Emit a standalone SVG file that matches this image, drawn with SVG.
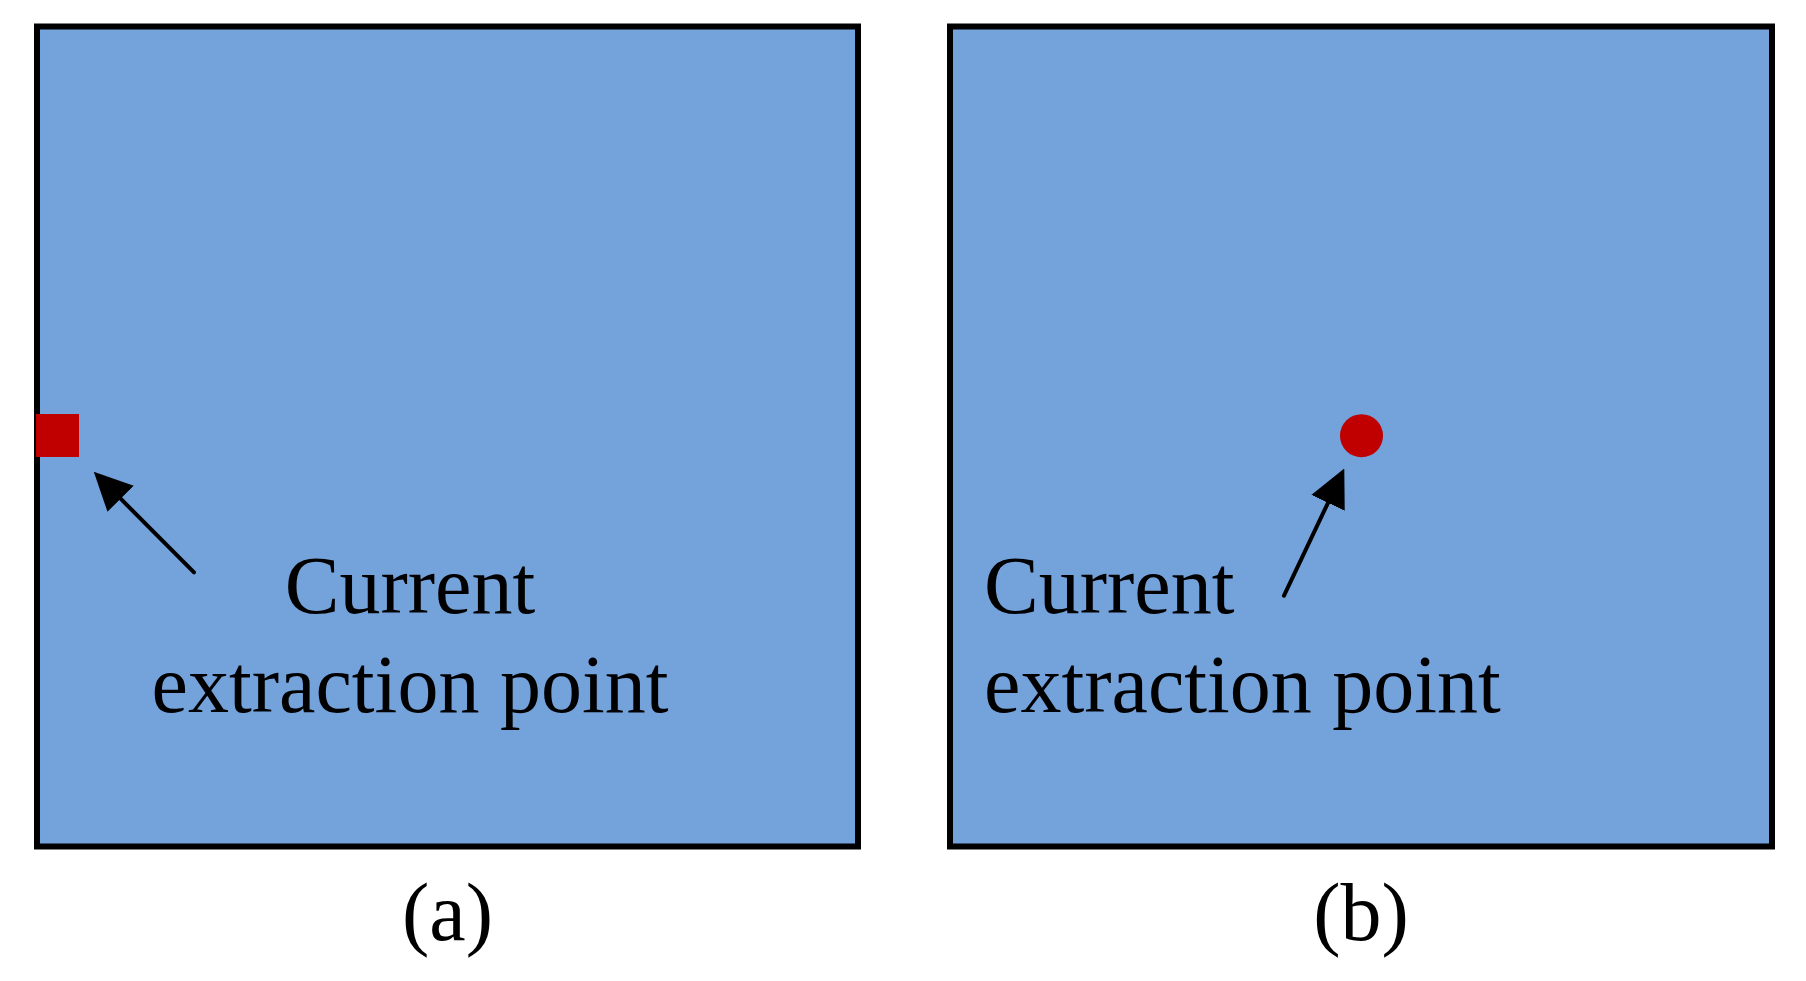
<svg xmlns="http://www.w3.org/2000/svg" width="1806" height="981" viewBox="0 0 1806 981">
<style>
.panel{fill:#74A2DB;stroke:#000;stroke-width:6;stroke-linejoin:miter}
.pt{fill:#C00000}
.lbl{font-family:"Liberation Serif","Times New Roman",serif;font-size:82px;fill:#000}
.conn{stroke:#000;stroke-width:4;stroke-linecap:round;fill:none;marker-end:url(#ah)}
</style>
<defs>
<marker id="ah" markerUnits="userSpaceOnUse" viewBox="0 0 38 37" markerWidth="38" markerHeight="37" refX="0" refY="18.5" orient="auto">
<path d="M0,0 L38,18.5 L0,37 Z" fill="#000"/>
</marker>
</defs>
<rect width="1806" height="981" fill="#fff"/>
<g id="panel-a">
<rect class="panel" x="37" y="26.5" width="821" height="820"/>
<rect id="point-a" class="pt" x="36" y="414" width="43" height="43"/>
<text class="lbl" x="410" y="613" text-anchor="middle">Current</text>
<text class="lbl" x="410" y="712" text-anchor="middle">extraction point</text>
<text class="lbl" x="447.5" y="940" text-anchor="middle">(a)</text>
</g>
<g id="panel-b">
<rect class="panel" x="950" y="26.5" width="822" height="820"/>
<circle id="point-b" class="pt" cx="1361.5" cy="435.7" r="21.5"/>
<text class="lbl" x="984" y="613">Current</text>
<text class="lbl" x="984" y="712">extraction point</text>
<text class="lbl" x="1361" y="940" text-anchor="middle">(b)</text>
</g>
<g id="connectors">
<line class="conn" x1="194" y1="572.3" x2="120.6" y2="498.7"/>
<line class="conn" x1="1284" y1="595.7" x2="1328" y2="502.8"/>
</g>
</svg>
